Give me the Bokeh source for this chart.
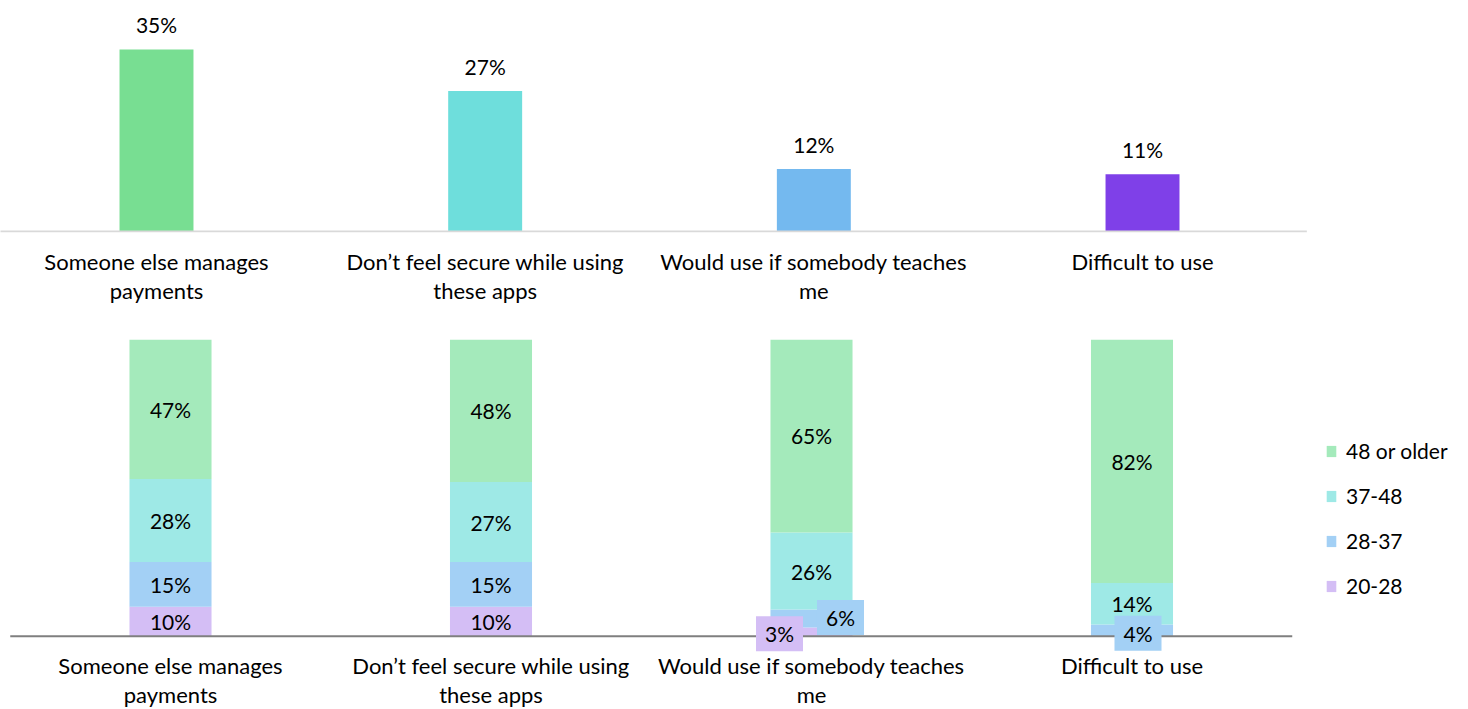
from bokeh.plotting import figure
from bokeh.layouts import column
from bokeh.models import Range1d, ColumnDataSource, Legend, LegendItem, FixedTicker
from bokeh.core.properties import value
from bokeh.embed import file_html
from bokeh.resources import INLINE

# ---------------- data ----------------
categories = [
    "Someone else manages\npayments",
    "Don\u2019t feel secure while using\nthese apps",
    "Would use if somebody teaches\nme",
    "Difficult to use",
]
overall = [35, 27, 12, 11]

age_groups = ["20-28", "28-37", "37-48", "48 or older"]
age_20_28 = [10, 10, 3, 0]
age_28_37 = [15, 15, 6, 4]
age_37_48 = [28, 27, 26, 14]
age_48_plus = [47, 48, 65, 82]

# ---------------- styles ----------------
FONT = "Lato"
CAT_SIZE = "22px"
VAL_SIZE = "21px"
top_colors = ["#78DE92", "#6EDEDC", "#74B9EF", "#7F40E8"]
age_colors = ["#D4BEF5", "#A3D0F5", "#9EE9E6", "#A4EABB"]
# pixel offsets of the "best fit" labels that Excel moved outside small segments
label_offsets = {(2, 0): (-32, 2), (2, 1): (29, -1), (3, 1): (6, 3)}

xs = list(range(len(categories)))

# ---------------- top chart ----------------
top = figure(width=1468, height=320, output_backend="svg", toolbar_location=None,
             x_range=Range1d(-156 / 328.67, (1468 - 156) / 328.67),
             y_range=Range1d(-0.2, 44.4),
             min_border_left=0, min_border_right=0, min_border_top=0, min_border_bottom=88)
top.outline_line_color = None
top.grid.visible = False
top.yaxis.visible = False

src_top = ColumnDataSource(dict(x=xs, v=overall, c=top_colors,
                                lab=[f"{v}%" for v in overall]))
top.vbar(x="x", top="v", width=0.225, fill_color="c", line_color=None, source=src_top)
top.segment(x0=[xs[0] - 0.5], y0=[0], x1=[xs[-1] + 0.5], y1=[0],
            line_color="#D9D9D9", line_width=2)
top.text(x="x", y="v", text="lab", source=src_top, text_align="center",
         text_baseline="middle", y_offset=-25, text_font=value(FONT),
         text_font_size=VAL_SIZE, text_color="#000000")

ax = top.xaxis[0]
ax.ticker = FixedTicker(ticks=xs)
ax.major_label_overrides = {i: c for i, c in enumerate(categories)}
ax.axis_line_color = None
ax.major_tick_line_color = None
ax.minor_tick_line_color = None
ax.major_label_standoff = 9
ax.major_label_text_font = FONT
ax.major_label_text_font_size = CAT_SIZE
ax.major_label_text_line_height = 1.1
ax.major_label_text_color = "#000000"

# ---------------- bottom chart ----------------
bot = figure(width=1468, height=389, output_backend="svg", toolbar_location=None,
             x_range=Range1d(-170 / 320.5, (1468 - 170) / 320.5),
             y_range=Range1d(-24.66, 100),
             min_border_left=0, min_border_right=0, min_border_top=19, min_border_bottom=0)
bot.outline_line_color = None
bot.grid.visible = False
bot.yaxis.visible = False
bot.xaxis.visible = False

series = [age_20_28, age_28_37, age_37_48, age_48_plus]
src_bot = ColumnDataSource(dict(x=xs, **{g: s for g, s in zip(age_groups, series)}))
renderers = bot.vbar_stack(age_groups, x="x", width=0.256, fill_color=age_colors,
                           line_color=None, source=src_bot)

# baseline across the categories
bot.segment(x0=[xs[0] - 0.5], y0=[0], x1=[xs[-1] + 0.5], y1=[0],
            line_color="#7F7F7F", line_width=2)

plain = dict(x=[], y=[], t=[])
boxed = dict(x=[], y=[], t=[], c=[], dx=[], dy=[])
for i in xs:
    base = 0
    for j, s in enumerate(series):
        v = s[i]
        if v > 0:
            yc = base + v / 2
            if (i, j) in label_offsets:
                dx, dy = label_offsets[(i, j)]
                boxed["x"].append(i); boxed["y"].append(yc); boxed["t"].append(f"{v}%")
                boxed["c"].append(age_colors[j]); boxed["dx"].append(dx); boxed["dy"].append(dy)
            else:
                plain["x"].append(i); plain["y"].append(yc); plain["t"].append(f"{v}%")
        base += v

bot.text(x="x", y="y", text="t", source=ColumnDataSource(plain), text_align="center",
         text_baseline="middle", text_font=value(FONT), text_font_size=VAL_SIZE,
         text_color="#000000")
bot.text(x="x", y="y", text="t", source=ColumnDataSource(boxed), text_align="center",
         text_baseline="middle", x_offset="dx", y_offset="dy", text_font=value(FONT),
         text_font_size=VAL_SIZE, text_color="#000000",
         background_fill_color="c", padding=dict(x=9, y=5))

# category labels under the baseline
bot.text(x=xs, y=[0] * len(xs), text=categories, text_align="center",
         text_baseline="top", y_offset=16, text_font=value(FONT),
         text_font_size=CAT_SIZE, text_line_height=1.06, text_color="#000000")

legend = Legend(
    items=[LegendItem(label=g, renderers=[r]) for g, r in reversed(list(zip(age_groups, renderers)))],
    location=(1325, 111), orientation="vertical",
    border_line_color=None, background_fill_alpha=0,
    padding=0, margin=0, spacing=20,
    glyph_width=12, glyph_height=14, label_standoff=9, label_height=21,
    label_text_font=FONT, label_text_font_size=VAL_SIZE, label_text_color="#000000",
)
bot.add_layout(legend)

layout = column(top, bot, spacing=0)
open("out.html", "w").write(file_html(layout, INLINE))
